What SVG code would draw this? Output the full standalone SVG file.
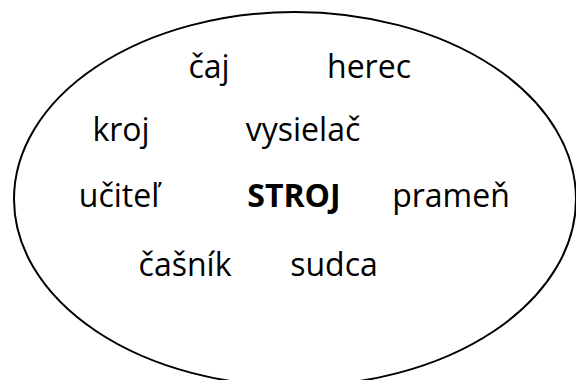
<svg xmlns="http://www.w3.org/2000/svg" width="576" height="380" viewBox="0 0 576 380">
<style>
.w{font-family:"Open Sans","Liberation Sans",sans-serif;font-size:32px;fill:#000;text-anchor:middle}
.b{font-weight:bold}
</style>
<rect width="576" height="380" fill="#fff"/>
<g id="ellipse">
<ellipse cx="295" cy="199" rx="281" ry="187" fill="none" stroke="#000" stroke-width="2"/>
</g>
<g id="words">
<text class="w" x="209" y="78">čaj</text>
<text class="w" x="369" y="78">herec</text>
<text class="w" x="121" y="141">kroj</text>
<text class="w" x="303" y="141">vysielač</text>
<text class="w" x="119" y="207">učiteľ</text>
<text class="w b" x="294" y="207">STROJ</text>
<text class="w" x="451" y="207">prameň</text>
<text class="w" x="185" y="276">čašník</text>
<text class="w" x="334" y="276">sudca</text>
</g>
</svg>
